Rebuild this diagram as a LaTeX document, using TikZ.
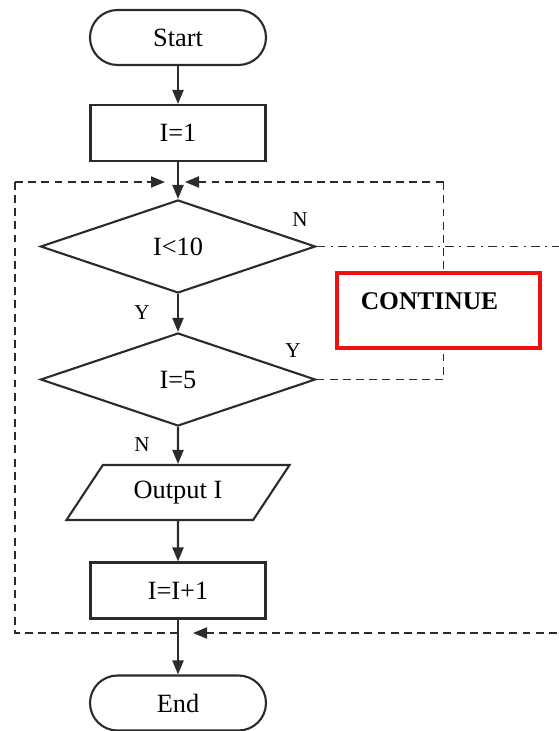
\documentclass[tikz,border=0pt]{standalone}
\usepackage{fontspec}
\setmainfont{Liberation Serif}
\usepackage{xcolor}
\usepackage{tikz}
\usetikzlibrary{arrows.meta,shapes.geometric}
\definecolor{inkline}{HTML}{2B2B2B}
\definecolor{contred}{HTML}{F01010}

\begin{document}
\begin{tikzpicture}[
    every node/.style={draw=inkline, line width=1.2pt, fill=white, inner sep=1pt, font=\fontsize{15}{18}\selectfont},
    term/.style={rectangle, rounded corners=0.55cm, minimum width=3.52cm, minimum height=1.1cm},
    proc/.style={rectangle, minimum width=3.5cm, minimum height=1.12cm},
    decide/.style={diamond, inner sep=0pt, minimum width=5.5cm, minimum height=1.86cm},
    io/.style={trapezium, trapezium left angle=50, trapezium right angle=130, trapezium stretches=true, minimum width=4.48cm, minimum height=1.1cm},
    yn/.style={draw=none, fill=none, font=\fontsize{12}{14}\selectfont},
    flow/.style={-{Triangle[length=2.8mm,width=2.2mm]}, line width=1.2pt, inkline},
    loopline/.style={line width=1.1pt, inkline, dash pattern=on 4.5pt off 3pt},
    exitline/.style={line width=1pt, inkline, dash pattern=on 5pt off 3pt on 1.2pt off 3pt}
]
\useasboundingbox (0,0) rectangle (11.16,-14.62);
% ---- MAIN COLUMN ----
\node[term] (start) at (3.56,-0.75) {Start};
\node[proc] (i1) at (3.56,-2.66) {I=1};
\node[decide] (d1) at (3.56,-4.93) {I<10};
\node[decide] (d2) at (3.56,-7.59) {I=5};
\node[io] (out) at (3.56,-9.85) {Output I};
\node[proc] (inc) at (3.56,-11.81) {I=I+1};
\node[term] (end) at (3.56,-14.06) {End};
\draw[flow] (start) -- (i1);
\draw[flow] (i1) -- (d1);
\draw[flow] (d1) -- (d2);
\draw[flow] (d2) -- (out);
\draw[flow] (out) -- (inc);
\draw[flow] (inc) -- (end);

% branch labels
\node[yn] (n1) at (6.0,-4.4) {N};
\node[yn] (y1) at (2.84,-6.26) {Y};
\node[yn] (y2) at (5.86,-7.02) {Y};
\node[yn] (n2) at (2.84,-8.9) {N};

% ---- LOOP LINES ----
\coordinate (jl) at (3.3,-3.64);
\coordinate (jr) at (3.7,-3.64);
\coordinate (tl) at (0.3,-3.64);
\coordinate (bl) at (0.3,-12.66);
\coordinate (bm) at (3.56,-12.66);
\coordinate (bt) at (3.86,-12.66);
\coordinate (be) at (11.4,-12.66);
\coordinate (tr) at (8.87,-3.64);
\coordinate (mr) at (8.87,-7.59);
\coordinate (ne) at (11.4,-4.93);
\draw[loopline] (bm) -- (bl) -- (tl);
\draw[loopline, -{Triangle[length=2.8mm,width=2.2mm]}] (tl) -- (jl);
\draw[loopline] (d2.east) -- (mr) -- (tr);
\draw[loopline, -{Triangle[length=2.8mm,width=2.2mm]}] (tr) -- (jr);
\draw[loopline, -{Triangle[length=2.8mm,width=2.2mm]}] (be) -- (bt);
\draw[exitline] (d1.east) -- (ne);

% ---- CONTINUE ----
\node[draw=contred, line width=2.3pt, minimum width=4.06cm, minimum height=1.5cm,
      label={[draw=none, fill=none, xshift=-0.18cm, yshift=0.18cm, font=\fontsize{14.5}{17}\selectfont\bfseries]center:CONTINUE}] (cont) at (8.77,-6.21) {};
\end{tikzpicture}
\end{document}
